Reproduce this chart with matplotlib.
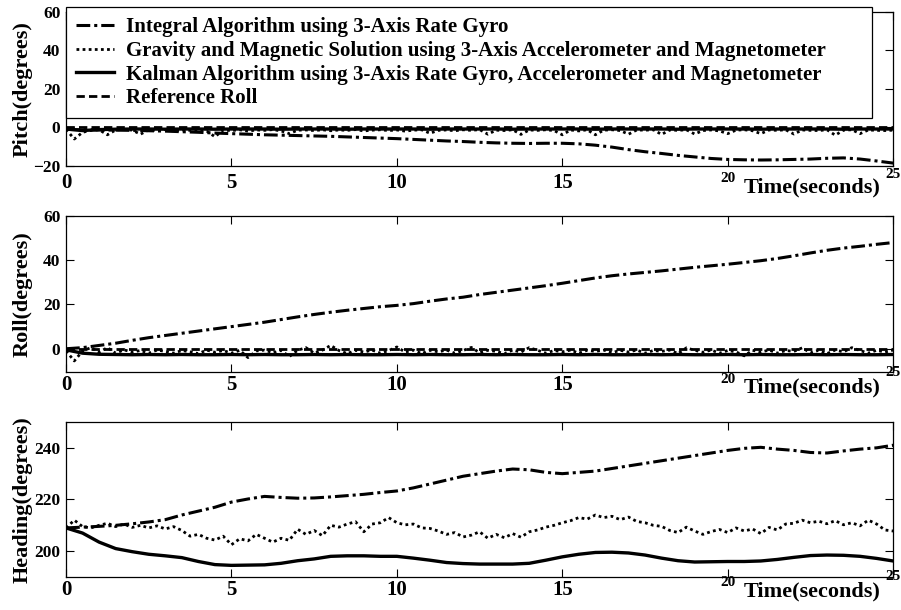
import numpy as np
import matplotlib.pyplot as plt

plt.rcParams['font.family'] = ['Liberation Serif', 'DejaVu Serif']
plt.rcParams['font.weight'] = 'bold'

# time grids (0.5 s for smooth curves, 0.25 s for the noisy sensor solution)
t_c = np.arange(0, 25.01, 0.5)
t_f = np.arange(0, 25.01, 0.25)

# ---- Pitch ----
pitch_integral = [-1.0, -1.2, -1.3, -1.4, -1.5, -1.7, -1.9, -2.2, -2.5, -2.9,
                  -3.2, -3.5, -3.8, -4.0, -4.2, -4.4, -4.6, -4.9, -5.2, -5.5,
                  -5.8, -6.2, -6.6, -7.0, -7.3, -7.7, -8.0, -8.2, -8.3, -8.2,
                  -8.2, -8.5, -9.2, -10.2, -11.5, -12.6, -13.5, -14.5, -15.3, -16.1,
                  -16.6, -16.8, -16.9, -16.8, -16.6, -16.4, -16.0, -15.8, -16.4, -17.4,
                  -18.5]
pitch_gravity = [-1.0, -6.0, -2.5, -1.5, -1.2, -3.8, -1.3, -1.0, -1.4, -3.5,
                 -1.2, -1.6, -1.1, -1.8, -1.3, -1.5, -1.2, -1.9, -4.8, -1.4,
                 -1.6, -1.2, -1.9, -1.3, -1.5, -1.1, -1.8, -3.2, -1.4, -1.3,
                 -1.6, -1.2, -1.7, -1.3, -1.5, -1.1, -1.8, -1.4, -1.2, -1.6,
                 -1.3, -1.9, -1.4, -1.2, -3.0, -1.5, -1.3, -1.7, -1.2, -1.5,
                 -1.1, -3.5, -1.4, -1.6, -1.2, -3.6, -1.3, -1.5, -1.2, -1.6,
                 -3.8, -1.3, -1.8, -1.2, -3.8, -1.4, -1.2, -1.6, -3.5, -1.3,
                 -1.4, -1.2, -3.6, -1.3, -1.5, -1.2, -3.4, -1.6, -1.3, -1.8,
                 -3.2, -1.4, -1.2, -1.7, -3.2, -1.3, -1.5, -1.2, -3.4, -1.3,
                 -1.5, -1.6, -1.2, -4.0, -1.4, -1.2, -3.2, -1.3, -1.5, -1.6,
                 -1.4]
pitch_kalman = [-0.8, -1.6, -1.1, -0.9, -0.8, -0.8, -0.9, -0.8, -0.8, -0.9,
                -0.8, -0.8, -0.8, -0.9, -0.8, -0.8, -0.8, -0.9, -0.8, -0.8,
                -0.8, -0.8, -0.9, -0.8, -0.8, -0.8, -0.8, -0.9, -0.8, -0.8,
                -0.8, -0.8, -0.9, -0.8, -0.8, -0.8, -0.8, -0.9, -0.8, -0.8,
                -0.8, -0.8, -0.9, -0.8, -0.8, -0.8, -0.8, -0.9, -0.8, -0.8,
                -0.8]
pitch_ref = [0.0] * 51

# ---- Roll ----
roll_integral = [0.0, 0.5, 1.5, 2.5, 3.8, 5.0, 6.0, 7.0, 8.0, 9.0,
                 10.0, 11.0, 12.0, 13.2, 14.4, 15.5, 16.5, 17.4, 18.2, 19.0,
                 19.6, 20.4, 21.5, 22.5, 23.3, 24.5, 25.5, 26.5, 27.5, 28.5,
                 29.6, 30.8, 32.0, 33.0, 33.8, 34.5, 35.2, 36.0, 36.8, 37.5,
                 38.2, 39.0, 39.8, 40.8, 42.0, 43.3, 44.5, 45.5, 46.3, 47.2,
                 48.0]
roll_gravity = [-1.0, -5.5, -1.0, 0.5, -1.5, 0.5, -2.0, -0.5, -1.5, -0.8,
                -2.0, -0.6, -1.2, -2.0, -0.8, -1.4, -2.2, -0.6, -1.6, -0.8,
                -2.0, -0.7, -4.0, -1.0, -0.6, -1.8, -0.8, -3.5, -0.7, 0.5,
                -2.0, -0.6, 1.5, -0.8, -2.2, -0.7, -1.5, -0.6, -2.0, -0.8,
                0.8, -1.5, -0.6, -2.2, -0.7, -1.4, -0.6, -2.0, -0.8, 0.6,
                -1.8, -0.7, -1.2, -2.2, -0.6, -1.5, 0.5, -0.7, -2.0, -0.8,
                -1.4, -0.6, -2.0, -0.7, -1.2, -0.6, -1.8, -0.7, -1.5, -0.6,
                -2.0, -0.8, -1.2, -0.6, -2.2, 0.4, -0.7, -1.6, -0.6, -2.0,
                -0.8, -1.4, -3.2, -0.7, -1.5, -0.6, -2.0, -0.8, -1.2, 0.4,
                -1.8, -0.7, -2.2, -0.6, -1.4, 0.5, -0.8, -2.0, -0.7, -1.5,
                -0.6]
roll_kalman = [-0.5, -2.0, -2.5, -2.6, -2.7, -2.6, -2.7, -2.6, -2.7, -2.7,
               -2.6, -2.7, -2.6, -2.7, -2.7, -2.6, -2.7, -2.6, -2.7, -2.7,
               -2.6, -2.7, -2.6, -2.7, -2.7, -2.6, -2.7, -2.6, -2.7, -2.7,
               -2.6, -2.7, -2.6, -2.7, -2.7, -2.6, -2.7, -2.6, -2.7, -2.7,
               -2.6, -2.7, -2.6, -2.7, -2.7, -2.6, -2.7, -2.6, -2.7, -2.7,
               -2.6]
roll_ref = [0.0] * 51

# ---- Heading ----
head_integral = [209.0, 209.3, 209.6, 210.0, 210.6, 211.3, 212.2, 214.0, 215.5, 217.0,
                 219.0, 220.2, 221.2, 220.8, 220.5, 220.6, 221.0, 221.5, 222.0, 222.7,
                 223.3, 224.5, 226.0, 227.5, 229.0, 230.0, 231.0, 231.8, 231.5, 230.5,
                 230.0, 230.5, 231.0, 232.0, 233.0, 234.0, 235.0, 236.0, 237.0, 238.0,
                 239.0, 239.8, 240.2, 239.5, 239.0, 238.2, 238.0, 238.8, 239.5, 240.0,
                 241.0]
head_gravity = [209.0, 212.0, 209.5, 209.0, 210.0, 210.8, 209.5, 210.5, 209.2, 210.0,
                209.0, 209.8, 208.6, 209.5, 208.0, 205.8, 206.5, 205.0, 204.3, 205.8,
                202.5, 204.8, 204.0, 206.5, 205.0, 203.5, 205.0, 204.2, 208.5, 206.5,
                208.0, 206.0, 210.0, 209.3, 210.5, 211.4, 207.5, 210.5, 211.0, 213.0,
                211.0, 210.2, 210.5, 209.0, 208.8, 207.8, 206.5, 207.2, 205.5, 206.2,
                207.5, 205.0, 206.5, 205.2, 206.8, 205.4, 207.5, 208.2, 209.3, 210.0,
                211.0, 211.8, 213.0, 212.4, 214.0, 213.0, 213.5, 212.2, 213.2, 211.5,
                211.0, 210.0, 209.6, 208.0, 207.2, 209.3, 207.8, 206.5, 207.6, 208.4,
                207.2, 209.0, 207.8, 208.6, 206.8, 209.2, 208.2, 210.5, 210.8, 212.0,
                211.0, 211.6, 210.6, 211.8, 210.2, 211.0, 209.8, 212.0, 210.5, 208.2,
                207.8]
head_kalman = [209.0, 207.0, 203.5, 201.0, 199.8, 198.8, 198.2, 197.5, 196.0, 194.8,
               194.5, 194.6, 194.7, 195.3, 196.3, 197.0, 198.0, 198.2, 198.2, 198.0,
               198.0, 197.3, 196.5, 195.6, 195.2, 195.0, 195.0, 195.0, 195.3, 196.5,
               197.8, 198.8, 199.5, 199.6, 199.3, 198.5, 197.3, 196.3, 195.8, 195.9,
               196.0, 196.0, 196.2, 196.8, 197.6, 198.3, 198.5, 198.4, 198.0, 197.2,
               196.2]

labels = ['Integral Algorithm using 3-Axis Rate Gyro',
          'Gravity and Magnetic Solution using 3-Axis Accelerometer and Magnetometer',
          'Kalman Algorithm using 3-Axis Rate Gyro, Accelerometer and Magnetometer',
          'Reference Roll']

ls_dashdot = (0, (4.5, 1.3, 1.0, 1.3))
ls_dot = (0, (1.0, 1.2))
ls_dash = (0, (3.0, 1.5))

fig = plt.figure(figsize=(9.01, 6.10), dpi=100)
ax1 = fig.add_axes([0.0733, 0.7279, 0.918, 0.2525])
ax2 = fig.add_axes([0.0733, 0.3902, 0.918, 0.2557])
ax3 = fig.add_axes([0.0733, 0.0541, 0.918, 0.2541])


def style_axis(ax, ylabel, ylim, yticks, xpad, off20, off25, offtime):
    ax.set_xlim(0, 25)
    ax.set_ylim(*ylim)
    ax.set_yticks(yticks)
    ax.set_xticks([0, 5, 10, 15, 20, 25])
    ax.set_xticklabels(['0', '5', '10', '15', '', ''])
    ax.tick_params(direction='in', top=True, right=True, length=6, width=0.8)
    ax.tick_params(axis='x', labelsize=15, pad=xpad)
    ax.tick_params(axis='y', labelsize=12.5, pad=4)
    for lab in ax.get_xticklabels() + ax.get_yticklabels():
        lab.set_fontweight('bold')
    ax.set_ylabel(ylabel, fontsize=16, fontweight='bold')
    ax.yaxis.set_label_coords(-0.040, 0.5)
    # small raised "20", "25" and the time label squeezed between them
    ax.annotate('20', xy=(20, 0), xycoords=('data', 'axes fraction'), xytext=(0, -off20),
                textcoords='offset pixels', ha='center', va='center', fontsize=11, fontweight='bold')
    ax.annotate('25', xy=(25, 0), xycoords=('data', 'axes fraction'), xytext=(0, -off25),
                textcoords='offset pixels', ha='center', va='center', fontsize=11, fontweight='bold')
    ax.annotate('Time(seconds)', xy=(22.55, 0), xycoords=('data', 'axes fraction'),
                xytext=(0, -offtime), textcoords='offset pixels', ha='center', va='center',
                fontsize=16, fontweight='bold')
    for s in ax.spines.values():
        s.set_linewidth(0.9)


# Pitch
ax1.plot(t_c, pitch_ref, color='black', lw=2.0, ls=ls_dash)
ax1.plot(t_f, pitch_gravity, color='black', lw=2.0, ls=ls_dot)
ax1.plot(t_c, pitch_kalman, color='black', lw=2.4, ls='-')
ax1.plot(t_c, pitch_integral, color='black', lw=2.2, ls=ls_dashdot)
style_axis(ax1, 'Pitch(degrees)', (-20, 60), [-20, 0, 20, 40, 60], 5, 13, 9, 22)

# Roll
ax2.plot(t_c, roll_ref, color='black', lw=2.0, ls=ls_dash)
ax2.plot(t_f, roll_gravity, color='black', lw=2.0, ls=ls_dot)
ax2.plot(t_c, roll_kalman, color='black', lw=2.4, ls='-')
ax2.plot(t_c, roll_integral, color='black', lw=2.2, ls=ls_dashdot)
style_axis(ax2, 'Roll(degrees)', (-10.5, 60), [0, 20, 40, 60], 2, 8, 1, 16)

# Heading
ax3.plot(t_c, head_integral, color='black', lw=2.2, ls=ls_dashdot)
ax3.plot(t_f, head_gravity, color='black', lw=2.0, ls=ls_dot)
ax3.plot(t_c, head_kalman, color='black', lw=2.4, ls='-')
style_axis(ax3, 'Heading(degrees)', (190, 250), [200, 220, 240], 2, 6, 0, 14)

# legend in the pitch panel
handles = [plt.Line2D([], [], color='black', lw=2.2, ls=ls_dashdot),
           plt.Line2D([], [], color='black', lw=2.0, ls=ls_dot),
           plt.Line2D([], [], color='black', lw=2.4, ls='-'),
           plt.Line2D([], [], color='black', lw=2.0, ls=ls_dash)]
leg = ax1.legend(handles, labels, loc='upper left', bbox_to_anchor=(0, 1.032, 0.9746, 0.0),
                 mode='expand', prop={'size': 15, 'weight': 'bold'}, frameon=True,
                 fancybox=False, edgecolor='black', framealpha=1, borderaxespad=0,
                 handlelength=1.8, handletextpad=0.6, labelspacing=0.17, borderpad=0.5)
leg.get_frame().set_linewidth(0.9)

fig.savefig('out.png', dpi=100)
